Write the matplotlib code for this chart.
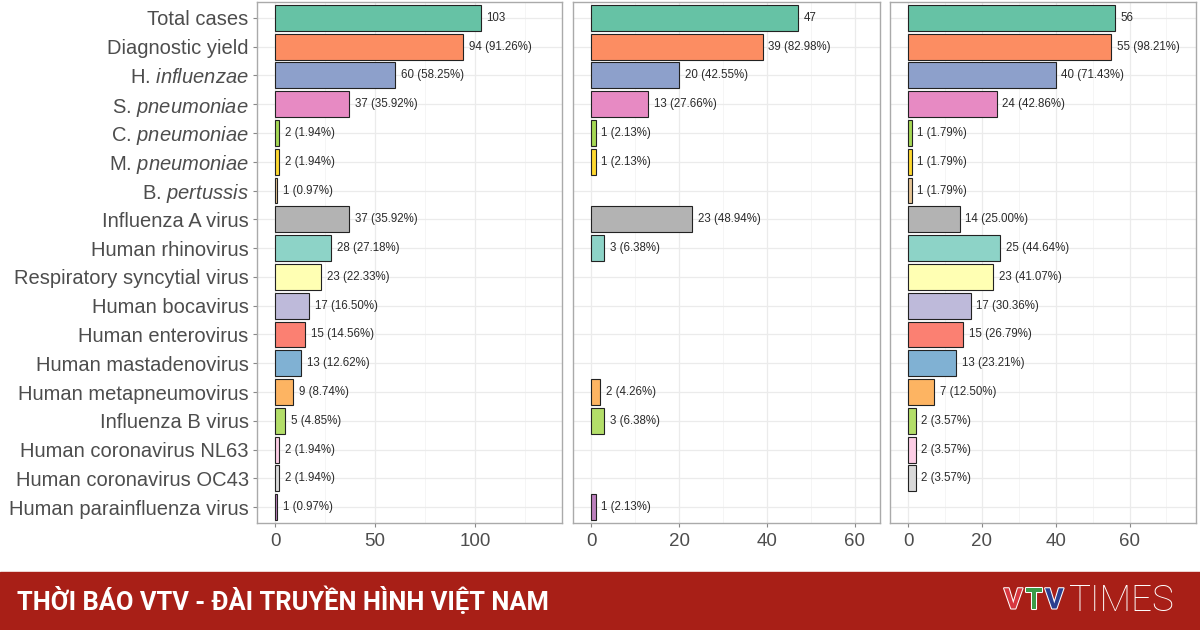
import matplotlib
matplotlib.use('Agg')
import matplotlib.pyplot as plt
import matplotlib.patheffects as pe
from matplotlib.patches import Rectangle

plt.rcParams['font.family'] = ['Liberation Sans', 'DejaVu Sans']
plt.rcParams['mathtext.fontset'] = 'custom'
plt.rcParams['mathtext.rm'] = 'Liberation Sans'
plt.rcParams['mathtext.it'] = 'Liberation Sans:italic'

categories = [
    "Total cases", "Diagnostic yield", r"H. $\mathit{influenzae}$",
    r"S. $\mathit{pneumoniae}$", r"C. $\mathit{pneumoniae}$",
    r"M. $\mathit{pneumoniae}$", r"B. $\mathit{pertussis}$",
    "Influenza A virus", "Human rhinovirus", "Respiratory syncytial virus",
    "Human bocavirus", "Human enterovirus", "Human mastadenovirus",
    "Human metapneumovirus", "Influenza B virus", "Human coronavirus NL63",
    "Human coronavirus OC43", "Human parainfluenza virus",
]

# counts per panel (None = not detected)
all_patients = [103, 94, 60, 37, 2, 2, 1, 37, 28, 23, 17, 15, 13, 9, 5, 2, 2, 1]
group_a = [47, 39, 20, 13, 1, 1, None, 23, 3, None, None, None, None, 2, 3, None, None, 1]
group_b = [56, 55, 40, 24, 1, 1, 1, 14, 25, 23, 17, 15, 13, 7, 2, 2, 2, None]

bar_colors = [
    "#66C2A5", "#FC8D62", "#8DA0CB", "#E78AC3", "#A6D854", "#FFD92F",
    "#E5C494", "#B3B3B3", "#8DD3C7", "#FFFFB3", "#BEBADA", "#FB8072",
    "#80B1D3", "#FDB462", "#B3DE69", "#FCCDE5", "#D9D9D9", "#BC80BD",
]

panels = [all_patients, group_a, group_b]
x_ticks = [[0, 50, 100], [0, 20, 40, 60], [0, 20, 40, 60]]
x_minor = [[25, 75, 125], [10, 30, 50], [10, 30, 50, 70]]
x_max = [143.5, 65.7, 78]
panel_left = [257, 573, 890]
panel_width = [305, 307, 306]

W, H = 1200, 630
fig = plt.figure(figsize=(W / 100, H / 100), dpi=100)

for k, vals in enumerate(panels):
    ax = fig.add_axes([panel_left[k] / W, 1 - 523 / H, panel_width[k] / W, 521 / H])
    total = vals[0]
    for i, v in enumerate(vals):
        if v is None:
            continue
        ax.barh(i, v, height=0.9, color=bar_colors[i], edgecolor="#222222", linewidth=0.8, zorder=3)
        if i == 0:
            txt = f"{v}"
        else:
            txt = f"{v} ({v / total * 100:.2f}%)"
        ax.annotate(txt, (v, i), xytext=(4, 0), textcoords="offset points",
                    va="center", ha="left", fontsize=8.3, color="#2A2A2A", zorder=4)
    ax.set_ylim(17.55, -0.55)
    ax.set_xlim(-0.063 * x_max[k], x_max[k])
    ax.set_xticks(x_ticks[k])
    ax.set_xticks(x_minor[k], minor=True)
    ax.set_yticks(range(len(categories)))
    ax.grid(True, which="major", color="#EBEBEB", linewidth=0.9, zorder=0)
    ax.grid(True, which="minor", axis="x", color="#F4F4F4", linewidth=0.6, zorder=0)
    ax.tick_params(axis="x", which="major", labelsize=13.5, colors="#888888",
                   labelcolor="#4D4D4D", length=3, pad=4)
    ax.tick_params(axis="x", which="minor", length=0)
    if k == 0:
        ax.set_yticklabels(categories)
        ax.tick_params(axis="y", labelsize=14.5, colors="#888888",
                       labelcolor="#4D4D4D", length=3, pad=3)
    else:
        ax.set_yticklabels([])
        ax.tick_params(axis="y", length=0)
    for s in ax.spines.values():
        s.set_color("#AAAAAA")
        s.set_linewidth(1.0)

# banner
fig.add_artist(Rectangle((0, 0), 1, 58 / H, transform=fig.transFigure,
                         color="#A81F17", zorder=0))
fig.text(17 / W, 29 / H, "THỜI BÁO VTV - ĐÀI TRUYỀN HÌNH VIỆT NAM",
         family="Roboto", fontweight="bold", fontsize=18.4, color="white",
         va="center", ha="left")

logo_x = [1004, 1025, 1045]
for ch, col, lx in zip("VTV", ["#D7373F", "#3C9B48", "#2B3F8F"], logo_x):
    fig.text(lx / W, 29 / H, ch, family="Roboto", fontweight="bold", fontsize=20.5,
             color=col, va="center", ha="left",
             path_effects=[pe.withStroke(linewidth=1.5, foreground="white")])
fig.text(1068 / W, 29 / H, "TIMES", family="Roboto", fontweight="light",
         fontsize=26.5, color="white", va="center", ha="left")

fig.savefig("out.png", dpi=100)
